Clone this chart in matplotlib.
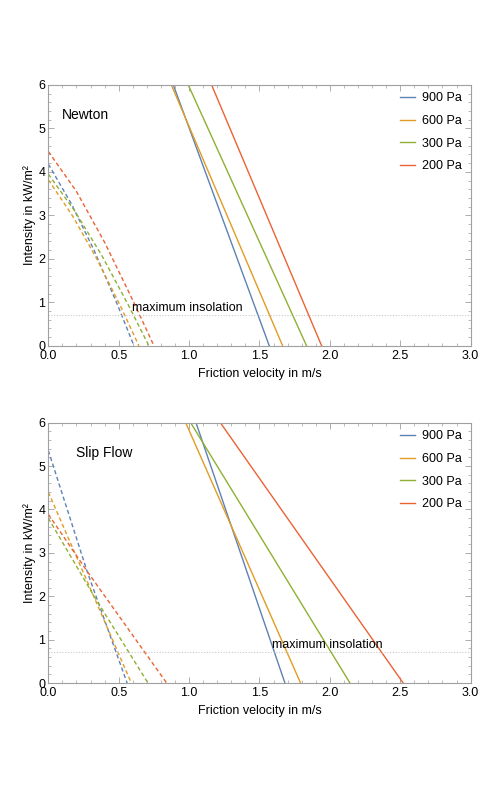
import matplotlib
matplotlib.use("Agg")
import matplotlib.pyplot as plt
from matplotlib.ticker import MultipleLocator

plt.rcParams['font.family'] = ['Liberation Sans', 'DejaVu Sans']

labels = ["900 Pa", "600 Pa", "300 Pa", "200 Pa"]
colors = ["#5E81B5", "#E19C24", "#8FB032", "#EB6235"]
max_insolation = 0.72

# Newton model: solid lines (x at I=6, x at I=0)
newton_solid_x = [[0.888, 1.570], [0.874, 1.665], [0.994, 1.835], [1.160, 1.942]]
newton_solid_y = [6, 0]
# Newton model: dashed curves
newton_dash_x = [[0, 0.163, 0.325, 0.487, 0.609],
                 [0, 0.172, 0.343, 0.515, 0.644],
                 [0, 0.19, 0.38, 0.57, 0.715],
                 [0, 0.2, 0.4, 0.6, 0.751]]
newton_dash_y = [[4.18, 3.27, 2.20, 0.98, 0],
                 [3.82, 2.99, 2.01, 0.90, 0],
                 [3.95, 3.09, 2.08, 0.93, 0],
                 [4.47, 3.55, 2.38, 1.05, 0]]

# Slip flow model
slip_solid_x = [[1.049, 1.681], [0.976, 1.792], [1.011, 2.143], [1.222, 2.521]]
slip_solid_y = [6, 0]
slip_dash_x = [[0, 0.277, 0.56],
               [0, 0.325, 0.59],
               [0, 0.325, 0.708],
               [0, 0.277, 0.841]]
slip_dash_y = [[5.36, 2.56, 0],
               [4.40, 1.98, 0],
               [3.80, 2.00, 0],
               [3.89, 2.57, 0]]

fig = plt.figure(figsize=(4.98, 7.97), dpi=100)
ax_top = fig.add_axes([0.097, 0.566, 0.848, 0.3275])
ax_bot = fig.add_axes([0.097, 0.143, 0.848, 0.3267])


def draw(ax, sx, sy, dx, dy, title, title_pos, ins_pos):
    for i in range(4):
        ax.plot(sx[i], sy, color=colors[i], linewidth=1.0, label=labels[i])
        ax.plot(dx[i], dy[i], color=colors[i], linewidth=1.0, linestyle=(0, (3, 2)))
    ax.axhline(max_insolation, color="#c8c8c8", linewidth=0.8, linestyle=(0, (1, 1.5)))
    ax.text(ins_pos[0], ins_pos[1], "maximum insolation", fontsize=9, va="center", ha="left")
    ax.text(title_pos[0], title_pos[1], title, fontsize=10, va="center", ha="left",
            transform=ax.transAxes)
    ax.set_xlim(0, 3)
    ax.set_ylim(0, 6)
    ax.xaxis.set_major_locator(MultipleLocator(0.5))
    ax.xaxis.set_minor_locator(MultipleLocator(0.1))
    ax.yaxis.set_major_locator(MultipleLocator(1))
    ax.yaxis.set_minor_locator(MultipleLocator(0.2))
    ax.xaxis.set_major_formatter(lambda v, p: "%.1f" % v)
    ax.yaxis.set_major_formatter(lambda v, p: "%d" % v)
    ax.tick_params(which="both", direction="in", top=True, right=True, color="#a0a0a0",
                   labelsize=9)
    ax.tick_params(which="major", length=4, width=0.6)
    ax.tick_params(which="minor", length=2, width=0.5)
    ax.tick_params(axis="x", pad=3)
    ax.tick_params(axis="y", pad=2)
    for s in ax.spines.values():
        s.set_color("#a0a0a0")
        s.set_linewidth(0.8)
    ax.set_xlabel("Friction velocity in m/s", fontsize=9, labelpad=4)
    ax.set_ylabel("Intensity in kW/m²", fontsize=9, labelpad=2)
    ax.legend(loc="upper left", bbox_to_anchor=(0.822, 0.99), frameon=False, fontsize=9,
              handlelength=1.15, handletextpad=0.55, labelspacing=0.85, borderaxespad=0)


draw(ax_top, newton_solid_x, newton_solid_y, newton_dash_x, newton_dash_y,
     "Newton", (0.032, 0.885), (0.592, 0.88))
draw(ax_bot, slip_solid_x, slip_solid_y, slip_dash_x, slip_dash_y,
     "Slip Flow", (0.066, 0.883), (1.589, 0.87))

fig.savefig("out.png", dpi=100)
